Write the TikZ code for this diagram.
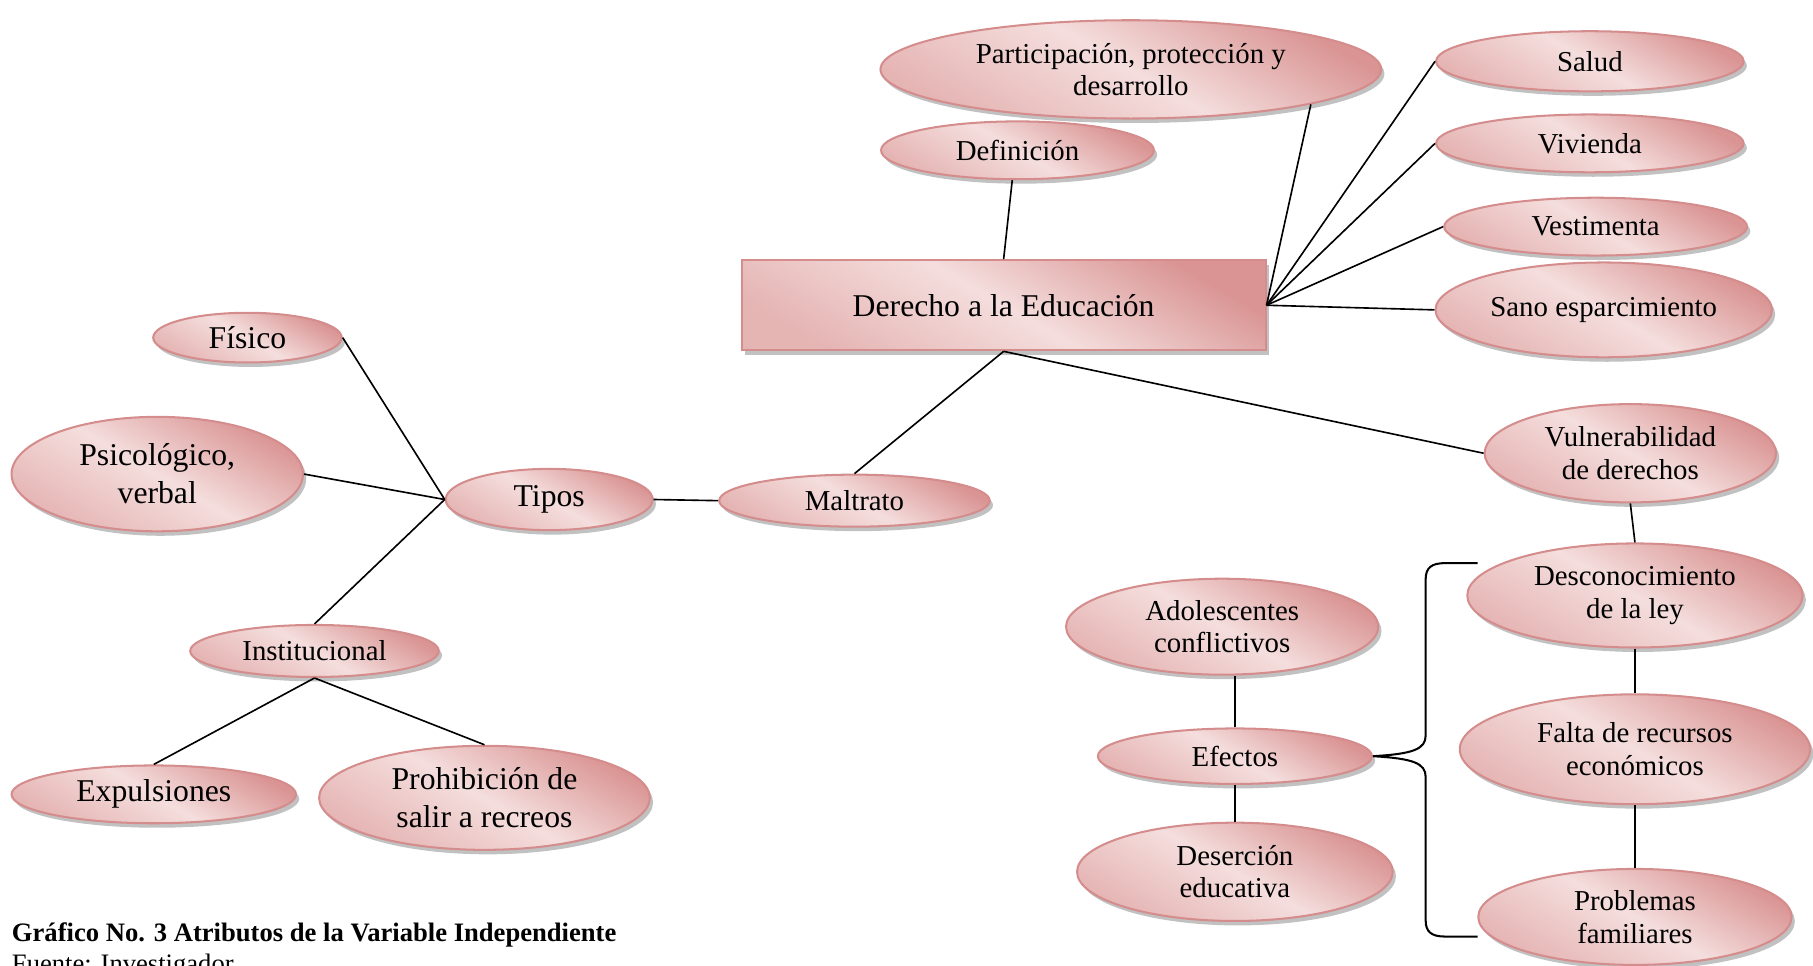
\documentclass[tikz,border=0pt]{standalone}
\usepackage{fontspec}
\setmainfont{Liberation Serif}
\usetikzlibrary{shapes.geometric,shadows}

\definecolor{rosa}{RGB}{244,222,221}
\definecolor{rosaosc}{RGB}{217,148,147}
\definecolor{borde}{RGB}{212,140,140}

\tikzset{
  elip/.style={ellipse, draw=borde, line width=1pt, inner sep=0pt, align=center,
    top color=rosaosc, bottom color=rosaosc!55!rosa, middle color=rosa, shading angle=-30,
    drop shadow={shadow xshift=1.6pt, shadow yshift=-2.2pt, opacity=0.35, fill=black!70}},
  caja/.style={rectangle, draw=borde, line width=1pt, inner sep=0pt,
    top color=rosaosc, bottom color=rosaosc!55!rosa, middle color=rosa, shading angle=-30,
    drop shadow={shadow xshift=1.6pt, shadow yshift=-2.2pt, opacity=0.35, fill=black!70}},
  tam/.style 2 args={minimum width=#1*0.02cm, minimum height=#2*0.02cm},
  grande/.style={font=\fontsize{15.6}{18.7}\selectfont},
  chica/.style={font=\fontsize{14.2}{16}\selectfont},
  linea/.style={line width=0.8pt, black},
}

\begin{document}
\begin{tikzpicture}[x=0.02cm, y=-0.02cm]
    \useasboundingbox (0,0) rectangle (1568,835);

    % centro
    \node[caja, grande, tam={453}{78}] (Der) at (868,264) {Derecho a la Educación};
    \node[elip, chica, tam={433}{85}] (Par) at (978,60) {Participación, protección y\\desarrollo};
    \node[elip, chica, tam={236}{50}] (Def) at (880,130) {Definición};

    % derechos
    \node[elip, chica, tam={266}{52}] (Sal) at (1375,53) {Salud};
    \node[elip, chica, tam={266}{50}] (Viv) at (1375,124) {Vivienda};
    \node[elip, chica, tam={262}{50}] (Ves) at (1380,196) {Vestimenta};
    \node[elip, chica, tam={291}{82}] (San) at (1387,268) {Sano esparcimiento};

    % vulnerabilidad
    \node[elip, chica, tam={252}{85}] (Vul) at (1410,392) {Vulnerabilidad\\de derechos};
    \node[elip, chica, tam={290}{90}] (Des) at (1414,515) {Desconocimiento\\de la ley};
    \node[elip, chica, tam={303}{95}] (Fal) at (1414,648) {Falta de recursos\\económicos};
    \node[elip, chica, tam={271}{83}] (Pro) at (1414,793) {Problemas\\familiares};

    % efectos
    \node[elip, chica, tam={270}{83}] (Ado) at (1057,542) {Adolescentes\\conflictivos};
    \node[elip, chica, tam={237}{48}] (Efe) at (1068,654) {Efectos};
    \node[elip, chica, tam={273}{85}] (Dse) at (1068,754) {Deserción\\educativa};

    % maltrato
    \node[elip, chica, tam={234}{45}] (Mal) at (739,433) {Maltrato};
    \node[elip, grande, tam={179}{53}] (Tip) at (475,432) {Tipos};
    \node[elip, grande, tam={163}{43}] (Fis) at (214,292) {Físico};
    \node[elip, grande, tam={252}{99}] (Psi) at (136,410) {Psicológico,\\verbal};
    \node[elip, chica, tam={215}{45}] (Ins) at (272,563) {Institucional};
    \node[elip, grande, tam={246}{50}] (Exp) at (133,687) {Expulsiones};
    \node[elip, grande, tam={286}{90}] (Prh) at (419,690) {Prohibición de\\salir a recreos};

    \draw[linea] (Def.-100) -- (Der.north);
    \draw[linea] (Par.-11) -- (Der.east);
    \draw[linea] (Der.east) -- (Sal.west);
    \draw[linea] (Der.east) -- (Viv.west);
    \draw[linea] (Der.east) -- (Ves.west);
    \draw[linea] (Der.east) -- (San.west);
    \draw[linea] (Der.south) -- (Mal.north);
    \draw[linea] (Der.south) -- (Vul.west);
    \draw[linea] (Vul.south) -- (Des.north);
    \draw[linea] (Des.south) -- (Fal.north);
    \draw[linea] (Fal.south) -- (Pro.north);
    \draw[linea] (Efe.north) -- (Efe.north |- Ado.south);
    \draw[linea] (Efe.south) -- (Dse.north);
    \draw[linea] (Tip.east) -- (Mal.west);
    \draw[linea] (Tip.west) -- (Fis.east);
    \draw[linea] (Tip.west) -- (Psi.east);
    \draw[linea] (Tip.west) -- (Ins.north);
    \draw[linea] (Ins.south) -- (Exp.north);
    \draw[linea] (Ins.south) -- (Prh.north);

    % llave de causas
    \coordinate (llA) at (1278,487);
    \coordinate (llB) at (1278,810);
    \draw[line width=1pt] (llA) -- (1250,487) .. controls (1238,487) and (1233,491) .. (1233,501)
        -- (1233,636) .. controls (1233,648) and (1222,652) .. (Efe.east)
        .. controls (1222,656) and (1233,660) .. (1233,672)
        -- (1233,796) .. controls (1233,806) and (1238,810) .. (1250,810) -- (llB);

    \node[anchor=base west, inner sep=0pt, font=\fontsize{13.1}{15}\selectfont\bfseries] (tit) at (10,814) {Gráfico No. 3 Atributos de la Variable Independiente};
    \node[anchor=base west, inner sep=0pt, font=\fontsize{13.1}{15}\selectfont] (fue) at (10,841) {Fuente: Investigador};
\end{tikzpicture}
\end{document}
